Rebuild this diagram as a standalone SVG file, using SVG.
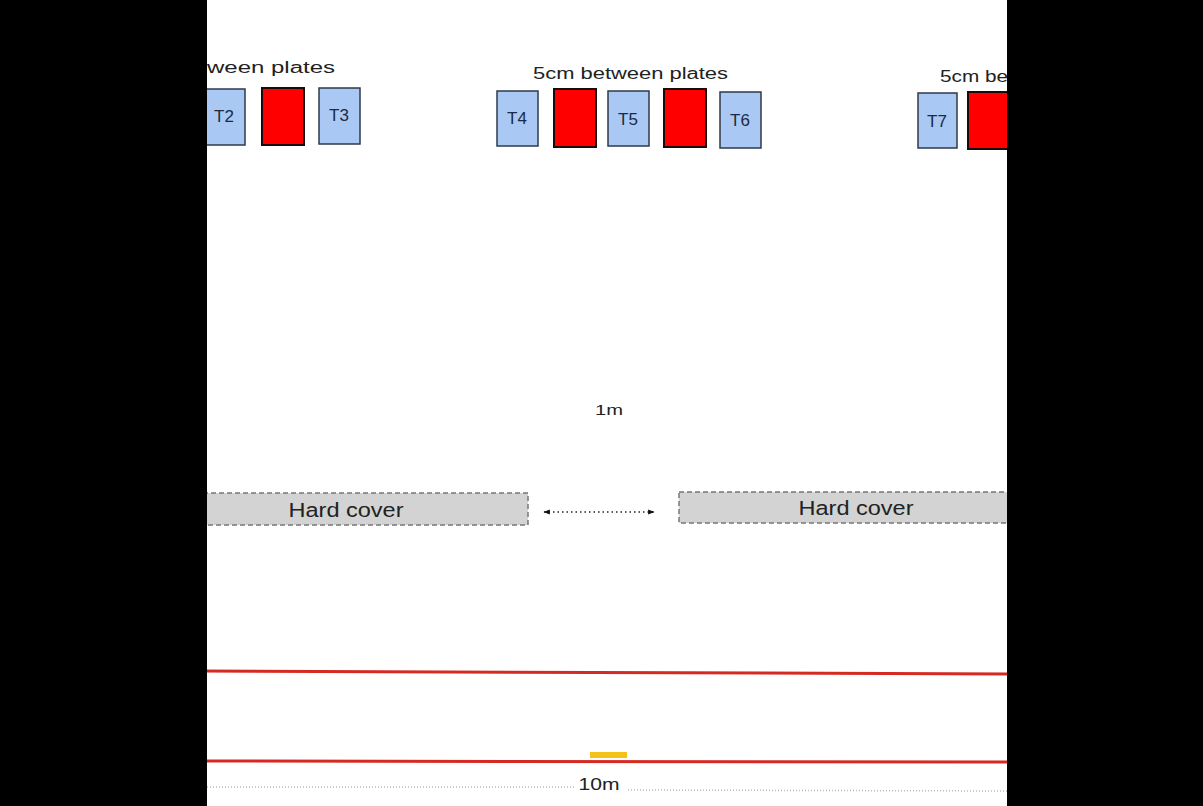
<svg xmlns="http://www.w3.org/2000/svg" width="1203" height="806" viewBox="0 0 1203 806">
<style>
.t{fill:#a9c8f3;stroke:#2e3a4a;stroke-width:1.5}
.p{fill:#ff0000;stroke:#1a0a0a;stroke-width:2}
.lbl{font-family:"Liberation Sans",Arial,sans-serif;fill:#1c2a44;font-size:17px}
.txt{font-family:"Liberation Sans",Arial,sans-serif;fill:#222;}
.hc{fill:#d3d3d3;stroke:#777;stroke-width:1.5;stroke-dasharray:5 3}
</style>
<defs>
<marker id="ah" viewBox="0 0 10 10" refX="9" refY="5" markerWidth="5" markerHeight="5" orient="auto-start-reverse">
<path d="M0,1 L10,5 L0,9 z" fill="#111"/>
</marker>
</defs>
<rect x="0" y="0" width="1203" height="806" fill="#ffffff"/>

<g id="group-left">
<text class="txt" x="207" y="73" font-size="16" textLength="128" lengthAdjust="spacingAndGlyphs">ween plates</text>
<g id="T2"><rect class="t" x="203" y="89" width="42" height="56"/><text class="lbl" x="224" y="122" text-anchor="middle">T2</text></g>
<g id="plate1"><rect class="p" x="262" y="88" width="42" height="57"/></g>
<g id="T3"><rect class="t" x="319" y="88" width="41" height="56"/><text class="lbl" x="339" y="121" text-anchor="middle">T3</text></g>
</g>

<g id="group-mid">
<text class="txt" x="533" y="79" font-size="16" textLength="195" lengthAdjust="spacingAndGlyphs">5cm between plates</text>
<g id="T4"><rect class="t" x="497" y="91" width="41" height="55"/><text class="lbl" x="517" y="124" text-anchor="middle">T4</text></g>
<g id="plate2"><rect class="p" x="554" y="89" width="42" height="58"/></g>
<g id="T5"><rect class="t" x="608" y="91" width="41" height="55"/><text class="lbl" x="628" y="125" text-anchor="middle">T5</text></g>
<g id="plate3"><rect class="p" x="664" y="89" width="42" height="58"/></g>
<g id="T6"><rect class="t" x="720" y="92" width="41" height="56"/><text class="lbl" x="740" y="126" text-anchor="middle">T6</text></g>
</g>

<g id="group-right">
<text class="txt" x="940" y="82" font-size="16" textLength="68" lengthAdjust="spacingAndGlyphs">5cm be</text>
<g id="T7"><rect class="t" x="918" y="93" width="39" height="55"/><text class="lbl" x="937" y="127" text-anchor="middle">T7</text></g>
<g id="plate4"><rect class="p" x="968" y="92" width="44" height="57"/></g>
</g>

<g id="label-1m"><text class="txt" x="609" y="415" font-size="15" text-anchor="middle" textLength="28" lengthAdjust="spacingAndGlyphs">1m</text></g>

<g id="hardcover-left">
<rect class="hc" x="203" y="493" width="325" height="32"/>
<text class="txt" x="346" y="517" font-size="20" text-anchor="middle" textLength="115" lengthAdjust="spacingAndGlyphs">Hard cover</text>
</g>
<g id="hardcover-right">
<rect class="hc" x="679" y="492" width="340" height="31"/>
<text class="txt" x="856" y="515" font-size="20" text-anchor="middle" textLength="115" lengthAdjust="spacingAndGlyphs">Hard cover</text>
</g>

<g id="connectors">
<line x1="544" y1="512" x2="654" y2="512" stroke="#222" stroke-width="1.3" stroke-dasharray="1.5 3" marker-start="url(#ah)" marker-end="url(#ah)"/>
</g>

<g id="track">
<line x1="203" y1="671" x2="1010" y2="674" stroke="#d42a22" stroke-width="3"/>
<line x1="203" y1="761" x2="1010" y2="762" stroke="#d42a22" stroke-width="3"/>
<rect x="590" y="752" width="37" height="6" fill="#f5c21a"/>
<line x1="207" y1="787" x2="574" y2="787" stroke="#bbb" stroke-width="1.5" stroke-dasharray="1 2"/>
<line x1="628" y1="790" x2="1007" y2="791" stroke="#bbb" stroke-width="1.5" stroke-dasharray="1 2"/>
<text class="txt" x="599" y="790" font-size="17" text-anchor="middle" textLength="41" lengthAdjust="spacingAndGlyphs">10m</text>
</g>

<rect x="0" y="0" width="207" height="806" fill="#000"/>
<rect x="1007" y="0" width="196" height="806" fill="#000"/>
</svg>
